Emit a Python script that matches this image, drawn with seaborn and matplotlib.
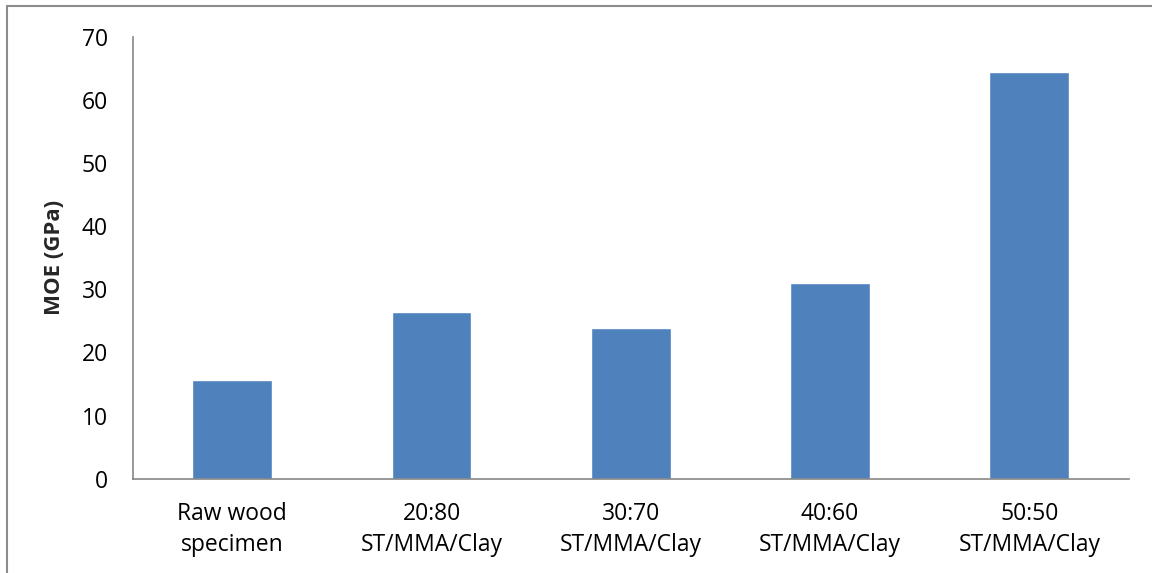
import matplotlib
matplotlib.use("Agg")
import matplotlib.pyplot as plt
from matplotlib.lines import Line2D
import seaborn as sns
import pandas as pd

categories = ["Raw wood\nspecimen", "20:80\nST/MMA/Clay", "30:70\nST/MMA/Clay",
              "40:60\nST/MMA/Clay", "50:50\nST/MMA/Clay"]
moe_gpa = [15.7, 26.4, 23.8, 30.9, 64.4]
y_ticks = [0, 10, 20, 30, 40, 50, 60, 70]

sns.set_theme(style="white")
plt.rcParams["font.family"] = ["Open Sans", "DejaVu Sans"]

df = pd.DataFrame({"sample": categories, "moe": moe_gpa})

fig = plt.figure(figsize=(11.52, 5.73), dpi=100)
ax = fig.add_axes([0.1152, 0.1646, 0.980 - 0.1152, 0.9363 - 0.1646])

sns.barplot(data=df, x="sample", y="moe", color="#4F81BD", saturation=1,
            width=0.4, ax=ax)

ax.set_ylim(0, 70)
ax.set_xlim(-0.5, len(categories) - 0.5)
ax.set_yticks(y_ticks)
ax.set_yticklabels([str(t) for t in y_ticks])
ax.tick_params(axis="both", length=0, labelsize=16.5, colors="black")
ax.tick_params(axis="y", pad=18)
ax.tick_params(axis="x", pad=17)
for lbl in ax.get_xticklabels():
    lbl.set_linespacing(1.4)
ax.set_xlabel("")
ax.set_ylabel("MOE (GPa)", fontsize=16, fontweight="bold", labelpad=12)

for side in ["top", "right"]:
    ax.spines[side].set_visible(False)
for side in ["left", "bottom"]:
    ax.spines[side].set_color("#868686")
    ax.spines[side].set_linewidth(1.2)

# outer chart frame
frame_color = "#8c8c8c"
x0 = 6.7 / 1152
y0 = 1 - 6 / 573
fig.add_artist(Line2D([x0, x0], [y0, 0], transform=fig.transFigure,
                      color=frame_color, lw=1.5))
fig.add_artist(Line2D([x0, 1], [y0, y0], transform=fig.transFigure,
                      color=frame_color, lw=1.5))

fig.savefig("out.png", dpi=100)
